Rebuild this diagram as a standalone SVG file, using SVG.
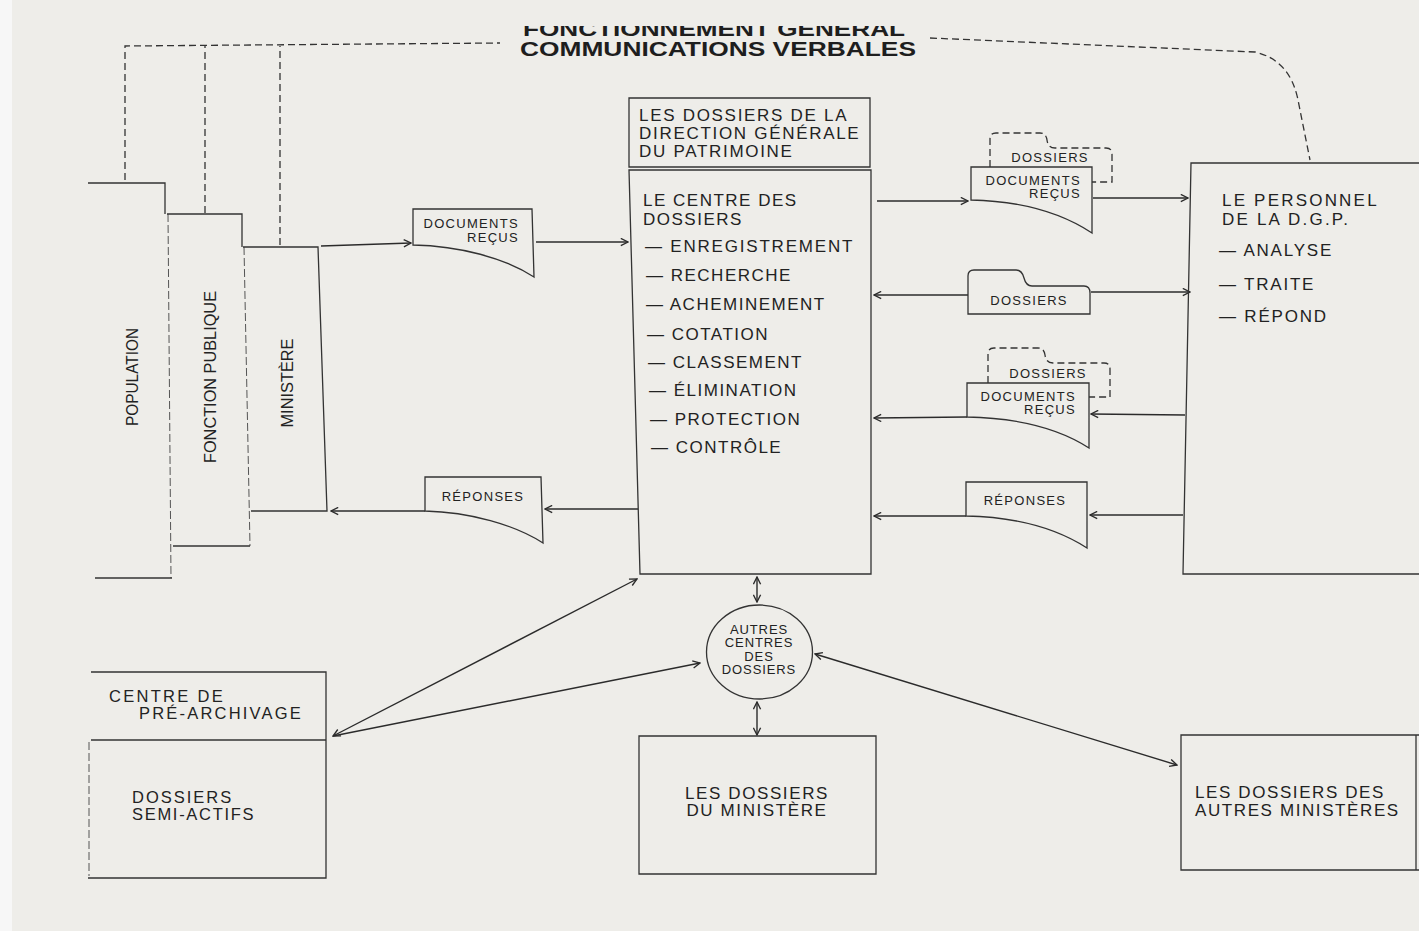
<svg xmlns="http://www.w3.org/2000/svg" width="1419" height="931" viewBox="0 0 1419 931">
<defs>
<style>
.ln{fill:none;stroke:#2b2b2b;stroke-width:1.4}
.fl{fill:none;stroke:#333;stroke-width:1.3}
.dsh{fill:none;stroke:#333;stroke-width:1.3;stroke-dasharray:7 4}
.faint{fill:none;stroke:#555;stroke-width:1;stroke-dasharray:8 3}
.t{font-family:"Liberation Sans",Arial,sans-serif;fill:#222;font-size:17px;letter-spacing:1.5px}
.s{font-family:"Liberation Sans",Arial,sans-serif;fill:#222;font-size:13px;letter-spacing:1.3px}
.ttl{font-family:"Liberation Sans",Arial,sans-serif;fill:#1e1e1e;font-size:19.5px;font-weight:bold}
.c{text-anchor:middle}
.e{text-anchor:end}
</style>
<marker id="arr" viewBox="0 0 10 10" refX="9" refY="5" markerWidth="9" markerHeight="9" markerUnits="userSpaceOnUse" orient="auto-start-reverse">
<path d="M1,1 L9,5 L1,9" fill="none" stroke="#2b2b2b" stroke-width="1.5"/>
</marker>
<clipPath id="topclip"><rect x="0" y="26" width="1419" height="905"/></clipPath>
</defs>
<rect x="0" y="0" width="1419" height="931" fill="#eeede9"/>
<rect x="0" y="0" width="12" height="931" fill="#f7f7f7"/>

<g id="title">
<text class="ttl" x="523" y="36" textLength="382" lengthAdjust="spacingAndGlyphs" clip-path="url(#topclip)">FONCTIONNEMENT GÉNÉRAL</text>
<text class="ttl" x="520" y="56" textLength="396" lengthAdjust="spacingAndGlyphs">COMMUNICATIONS VERBALES</text>
</g>

<g id="connectors">
<path class="dsh" d="M125,180 V46 L500,43"/>
<path class="dsh" d="M205,213 V46"/>
<path class="dsh" d="M280,245 V46"/>
<path class="dsh" d="M930,38 L1255,52 Q1290,60 1298,100 L1310,160"/>
<path class="ln" d="M321,246 L411,243" marker-end="url(#arr)"/>
<path class="ln" d="M536,242 L628,242" marker-end="url(#arr)"/>
<path class="ln" d="M638,509 L545,509" marker-end="url(#arr)"/>
<path class="ln" d="M425,511 L331,511" marker-end="url(#arr)"/>
<path class="ln" d="M877,201 L968,201" marker-end="url(#arr)"/>
<path class="ln" d="M1093,198 L1188,198" marker-end="url(#arr)"/>
<path class="ln" d="M968,295 L874,295" marker-end="url(#arr)"/>
<path class="ln" d="M1091,292 L1190,292" marker-end="url(#arr)"/>
<path class="ln" d="M1185,415 L1091,414" marker-end="url(#arr)"/>
<path class="ln" d="M967,417 L874,418" marker-end="url(#arr)"/>
<path class="ln" d="M1183,515 L1090,515" marker-end="url(#arr)"/>
<path class="ln" d="M966,516 L874,516" marker-end="url(#arr)"/>
<path class="ln" d="M757,577 L757,602" marker-start="url(#arr)" marker-end="url(#arr)"/>
<path class="ln" d="M757,702 L757,735" marker-start="url(#arr)" marker-end="url(#arr)"/>
<path class="ln" d="M333,736 L637,579" marker-start="url(#arr)" marker-end="url(#arr)"/>
<path class="ln" d="M333,736 L700,663" marker-end="url(#arr)"/>
<path class="ln" d="M815,654 L1177,765" marker-start="url(#arr)" marker-end="url(#arr)"/>
</g>

<g id="population">
<path class="fl" d="M88,183 H165 V214"/>
<path class="faint" d="M168,214 L171,578"/>
<path class="fl" d="M95,578 H172"/>
<text class="t" transform="translate(138,377) rotate(-90)" text-anchor="middle" textLength="98" lengthAdjust="spacingAndGlyphs" style="letter-spacing:0">POPULATION</text>
</g>

<g id="fonction-publique">
<path class="fl" d="M167,214 H242 V247"/>
<path class="faint" d="M244,247 L250,546"/>
<path class="fl" d="M173,546 H250"/>
<text class="t" transform="translate(216,377) rotate(-90)" text-anchor="middle" textLength="172" lengthAdjust="spacingAndGlyphs" style="letter-spacing:0">FONCTION PUBLIQUE</text>
</g>

<g id="ministere">
<path class="fl" d="M243,247 H318 L327,511 H251"/>
<text class="t" transform="translate(293,383) rotate(-90)" text-anchor="middle" textLength="89" lengthAdjust="spacingAndGlyphs" style="letter-spacing:0">MINISTÈRE</text>
</g>

<g id="doc-recus-left">
<path class="fl" d="M413,209 H532 L534,277 C505,258 460,246 413,245 Z"/>
<text class="s e" x="519" y="228">DOCUMENTS</text>
<text class="s e" x="519" y="242">REÇUS</text>
</g>

<g id="reponses-left">
<path class="fl" d="M425,477 H541 L543,543 C515,525 470,512 425,511 Z"/>
<text class="s c" x="483" y="501">RÉPONSES</text>
</g>

<g id="dgp-header">
<path class="fl" d="M629,98 H870 V167 H629 Z"/>
<text class="t" x="639" y="121" style="letter-spacing:1.7px">LES DOSSIERS DE LA</text>
<text class="t" x="639" y="139" style="letter-spacing:1.7px">DIRECTION GÉNÉRALE</text>
<text class="t" x="639" y="157" style="letter-spacing:1.7px">DU PATRIMOINE</text>
</g>

<g id="centre-dossiers">
<path class="fl" d="M629,170 H871 V574 H640 Z"/>
<text class="t" x="643" y="206">LE CENTRE DES</text>
<text class="t" x="643" y="225">DOSSIERS</text>
<text class="t" x="645" y="252" style="letter-spacing:1.8px">— ENREGISTREMENT</text>
<text class="t" x="646" y="281">— RECHERCHE</text>
<text class="t" x="646" y="310">— ACHEMINEMENT</text>
<text class="t" x="647" y="340">— COTATION</text>
<text class="t" x="648" y="368">— CLASSEMENT</text>
<text class="t" x="649" y="396">— ÉLIMINATION</text>
<text class="t" x="650" y="425">— PROTECTION</text>
<text class="t" x="651" y="453">— CONTRÔLE</text>
</g>

<g id="doc-recus-1">
<path class="dsh" d="M990,167 V139 Q990,133 996,133 H1040 Q1046,133 1047,140 Q1048,148 1055,148 H1106 Q1112,148 1112,154 V182 H1092"/>
<text class="s c" x="1050" y="162">DOSSIERS</text>
<path class="fl" d="M971,167 H1092 V233 C1060,212 1020,201 971,200 Z"/>
<text class="s e" x="1081" y="185">DOCUMENTS</text>
<text class="s e" x="1081" y="198">REÇUS</text>
</g>

<g id="dossiers-2">
<path class="fl" d="M968,314 V276 Q968,270 974,270 H1016 Q1022,270 1024,278 Q1026,286 1032,286 H1084 Q1090,286 1090,293 V314 Z"/>
<text class="s c" x="1029" y="305">DOSSIERS</text>
</g>

<g id="doc-recus-3">
<path class="dsh" d="M988,383 V354 Q988,348 994,348 H1038 Q1044,348 1045,355 Q1046,363 1053,363 H1104 Q1110,363 1110,369 V397 H1089"/>
<text class="s c" x="1048" y="378">DOSSIERS</text>
<path class="fl" d="M967,383 H1089 V448 C1058,428 1018,418 967,417 Z"/>
<text class="s e" x="1076" y="401">DOCUMENTS</text>
<text class="s e" x="1076" y="414">REÇUS</text>
</g>

<g id="reponses-right">
<path class="fl" d="M966,482 H1087 V548 C1056,528 1016,517 966,516 Z"/>
<text class="s c" x="1025" y="505">RÉPONSES</text>
</g>

<g id="personnel">
<path class="fl" d="M1419,163 H1191 L1183,574 H1419"/>
<text class="t" x="1222" y="206" style="letter-spacing:2.2px">LE PERSONNEL</text>
<text class="t" x="1222" y="225" style="letter-spacing:2.2px">DE LA D.G.P.</text>
<text class="t" x="1219" y="256" style="letter-spacing:1.8px">— ANALYSE</text>
<text class="t" x="1219" y="290" style="letter-spacing:1.8px">— TRAITE</text>
<text class="t" x="1219" y="322" style="letter-spacing:1.8px">— RÉPOND</text>
</g>

<g id="autres-centres">
<ellipse class="fl" cx="759.5" cy="652" rx="53" ry="47"/>
<text class="s c" x="759" y="634" style="letter-spacing:0.9px">AUTRES</text>
<text class="s c" x="759" y="647" style="letter-spacing:0.9px">CENTRES</text>
<text class="s c" x="759" y="661" style="letter-spacing:0.9px">DES</text>
<text class="s c" x="759" y="674" style="letter-spacing:0.9px">DOSSIERS</text>
</g>

<g id="pre-archivage">
<path class="fl" d="M91,672 H326 V878 H88"/>
<path class="fl" d="M91,740 H326"/>
<path class="faint" d="M89,742 V876"/>
<text class="t" x="109" y="702" style="font-size:16.5px;letter-spacing:2.3px">CENTRE DE</text>
<text class="t" x="139" y="719" style="font-size:16.5px;letter-spacing:2.2px">PRÉ-ARCHIVAGE</text>
<text class="t" x="132" y="803" style="font-size:16.5px;letter-spacing:2px">DOSSIERS</text>
<text class="t" x="132" y="820" style="font-size:16.5px;letter-spacing:1.7px">SEMI-ACTIFS</text>
</g>

<g id="dossiers-ministere">
<path class="fl" d="M639,736 H876 V874 H639 Z"/>
<text class="t c" x="757" y="799" style="letter-spacing:1.6px">LES DOSSIERS</text>
<text class="t c" x="757" y="816" style="letter-spacing:1.6px">DU MINISTÈRE</text>
</g>

<g id="autres-ministeres">
<path class="fl" d="M1419,735 H1181 V870 H1419"/>
<path class="fl" d="M1416,735 V870"/>
<text class="t" x="1195" y="798" style="letter-spacing:1.6px">LES DOSSIERS DES</text>
<text class="t" x="1195" y="816" style="letter-spacing:1.6px">AUTRES MINISTÈRES</text>
</g>
</svg>
